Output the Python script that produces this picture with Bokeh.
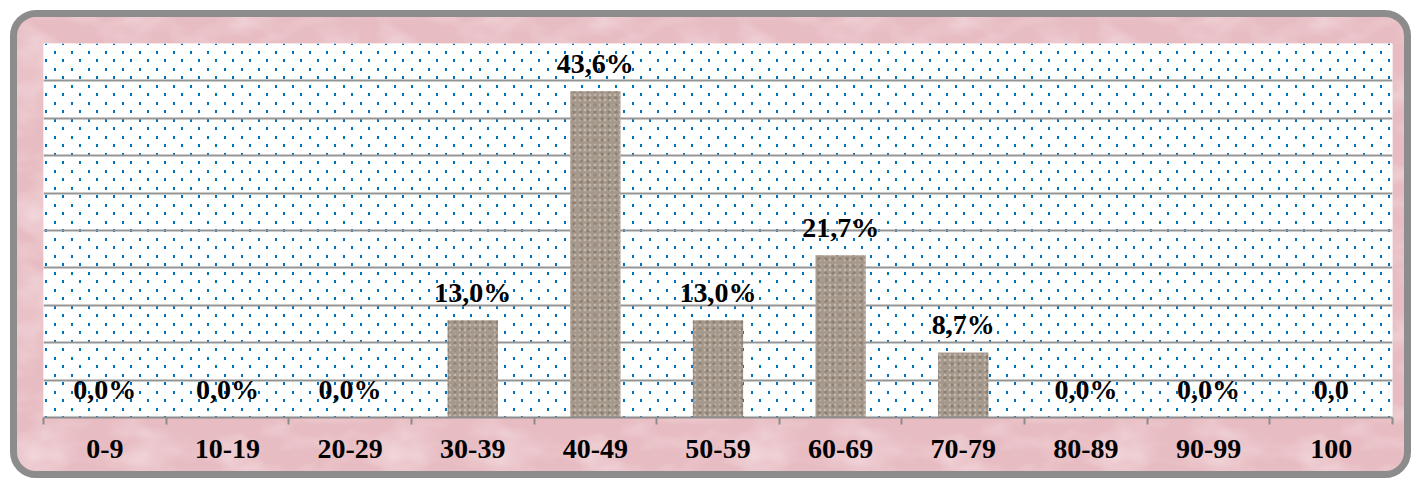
import base64
from bokeh.plotting import figure
from bokeh.models import Range1d, FixedTicker, BoxAnnotation, ColumnDataSource, ImageURLTexture
from bokeh.core.properties import value
from bokeh.embed import file_html
from bokeh.resources import INLINE

categories = ["0-9", "10-19", "20-29", "30-39", "40-49", "50-59",
              "60-69", "70-79", "80-89", "90-99", "100"]
percent = [0.0, 0.0, 0.0, 13.0, 43.6, 13.0, 21.7, 8.7, 0.0, 0.0, 0.0]
labels = ["0,0%", "0,0%", "0,0%", "13,0%", "43,6%", "13,0%",
          "21,7%", "8,7%", "0,0%", "0,0%", "0,0"]
y_ticks = [5, 10, 15, 20, 25, 30, 35, 40, 45, 50]

n = len(categories)
centers = [i + 0.5 for i in range(n)]
bounds = list(range(n + 1))

src = ColumnDataSource(dict(x=centers, top=percent, label=labels))


def svg_url(svg):
    return "data:image/svg+xml;base64," + base64.b64encode(svg.encode()).decode()


# staggered blue dot texture for the plot area
DOTS = svg_url(
    "<svg xmlns='http://www.w3.org/2000/svg' width='17' height='17'>"
    "<rect x='3' y='0' width='2' height='3' fill='#0070c0'/>"
    "<rect x='11' y='8' width='2' height='3' fill='#0070c0'/>"
    "</svg>")

# hand-placed speckle tile giving the bars a granite look
LIGHT = "#dcd4ca"
DARK = "#6c6057"
specks = [
    (1, 1, 2, 1, LIGHT), (6, 0, 1, 2, DARK), (10, 2, 2, 1, LIGHT), (15, 1, 1, 1, DARK),
    (19, 3, 2, 2, LIGHT), (3, 4, 1, 1, DARK), (8, 5, 2, 1, DARK), (13, 4, 1, 2, LIGHT),
    (17, 6, 1, 1, DARK), (0, 8, 1, 2, LIGHT), (5, 8, 2, 1, LIGHT), (11, 8, 1, 1, DARK),
    (15, 9, 2, 1, LIGHT), (20, 9, 1, 1, DARK), (2, 12, 1, 1, DARK), (7, 11, 1, 2, DARK),
    (10, 13, 2, 1, LIGHT), (14, 12, 1, 1, DARK), (18, 13, 2, 1, LIGHT), (1, 15, 2, 1, LIGHT),
    (5, 16, 1, 1, DARK), (9, 17, 1, 1, LIGHT), (12, 16, 2, 1, DARK), (16, 17, 1, 1, LIGHT),
    (21, 16, 1, 2, DARK), (4, 19, 2, 1, LIGHT), (8, 20, 1, 1, DARK), (13, 20, 1, 1, LIGHT),
    (18, 20, 2, 1, DARK), (22, 12, 1, 1, LIGHT),
]
GRANITE = svg_url(
    "<svg xmlns='http://www.w3.org/2000/svg' width='23' height='21'>"
    + "".join(f"<rect x='{x}' y='{y}' width='{w}' height='{h}' fill='{c}'/>"
              for x, y, w, h, c in specks)
    + "</svg>")

# mottled pink texture for the chart area
PINK = "#eac2c7"
MOTTLE = svg_url(
    "<svg xmlns='http://www.w3.org/2000/svg' width='360' height='240'>"
    "<filter id='m' x='0' y='0' width='100%' height='100%'>"
    "<feTurbulence type='fractalNoise' baseFrequency='0.02 0.035' numOctaves='3' seed='3' stitchTiles='stitch'/>"
    "<feColorMatrix type='matrix' values='0 0 0 0 0.95  0 0 0 0 0.83  0 0 0 0 0.85  1.1 0 0 0 -0.45'/>"
    "</filter>"
    "<rect width='360' height='240' fill='#e7bcc2'/>"
    "<rect width='360' height='240' filter='url(#m)'/>"
    "</svg>")

FONT = value("Liberation Serif")

p = figure(width=1401, height=468, output_backend="svg", toolbar_location=None,
           x_range=Range1d(0, n), y_range=Range1d(0, 50),
           min_border_left=26, min_border_right=26, min_border_top=26,
           min_border_bottom=68)
p.styles = {"margin": "10px 0 0 10px", "border": "7px solid #8c8c8c",
            "border-radius": "26px", "background-color": PINK,
            "background-image": f"url('{MOTTLE}')",
            "overflow": "hidden"}
p.border_fill_color = PINK
p.border_fill_alpha = 0.0
p.background_fill_color = "white"
p.outline_line_color = None

granite_tex = ImageURLTexture(url=GRANITE)

p.add_layout(BoxAnnotation(fill_color="white", fill_alpha=1.0, line_color=None,
                           hatch_pattern="bgdots",
                           hatch_extra={"bgdots": ImageURLTexture(url=DOTS)},
                           level="image"))
p.add_layout(BoxAnnotation(left=0, right=0.001, bottom=0, top=0.001,
                           fill_alpha=0, line_color=None, hatch_pattern="granite",
                           hatch_extra={"granite": granite_tex}, level="image"))

p.yaxis.visible = False
p.ygrid.ticker = FixedTicker(ticks=y_ticks)
p.ygrid.grid_line_color = "#959595"
p.ygrid.grid_line_width = 2
p.xgrid.visible = False

# base bar with fine speckle
p.vbar(x="x", top="top", width=0.41, source=src, fill_color="#a6998c",
       line_color=None, hatch_pattern="dot", hatch_color="#ddd6cd",
       hatch_scale=5, hatch_weight=1.6, hatch_alpha=0.5)
p.vbar(x="x", top="top", width=0.41, source=src, fill_alpha=0, line_color=None,
       hatch_pattern="dot", hatch_color="#6f645a", hatch_scale=7,
       hatch_weight=1.6, hatch_alpha=0.5)
# extra granite speckle on top
p.vbar(x="x", top="top", width=0.41, source=src, fill_alpha=0,
       line_color=None, hatch_pattern="granite",
       hatch_extra={"granite": granite_tex})

p.text(x="x", y="top", text="label", source=src, text_align="center",
       text_baseline="alphabetic", y_offset=-28, text_font=FONT,
       text_font_style="bold", text_font_size="28px", text_color="black")

ax = p.xaxis[0]
ax.ticker = FixedTicker(ticks=centers, minor_ticks=bounds)
ax.major_label_overrides = {c: lab for c, lab in zip(centers, categories)}
ax.major_tick_line_color = None
ax.major_tick_out = 0
ax.major_tick_in = 0
ax.minor_tick_line_color = "#8c8c8c"
ax.minor_tick_line_width = 2
ax.minor_tick_out = 7
ax.minor_tick_in = 0
ax.axis_line_color = "#8c8c8c"
ax.axis_line_width = 2
ax.major_label_standoff = 15
ax.major_label_text_font = "Liberation Serif"
ax.major_label_text_font_style = "bold"
ax.major_label_text_font_size = "28px"
ax.major_label_text_color = "black"

open("out.html", "w").write(file_html(p, INLINE))
